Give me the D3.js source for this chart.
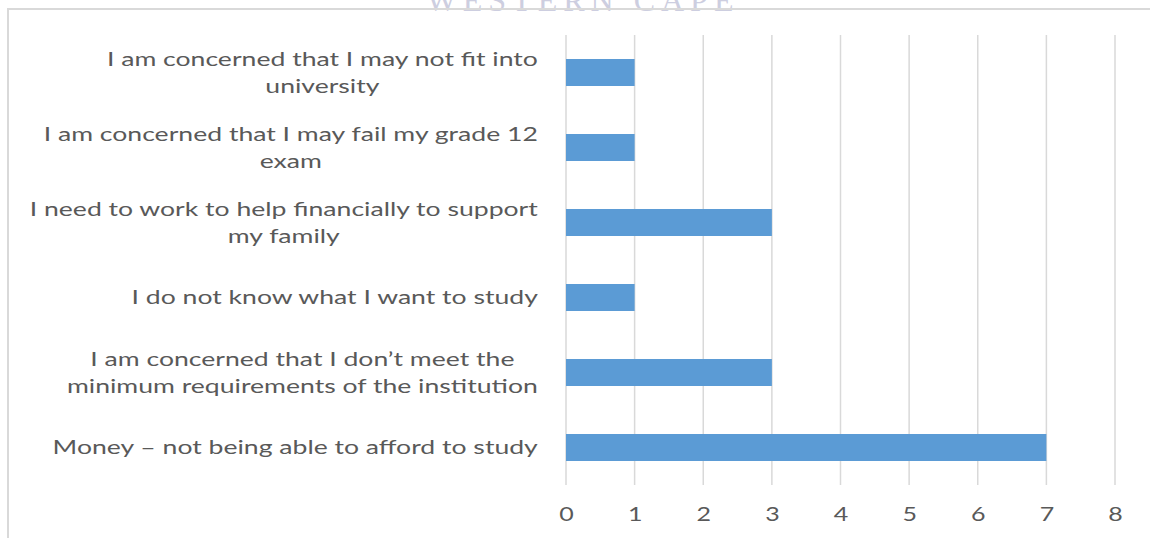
<!DOCTYPE html>
<html>
<head>
<meta charset="utf-8">
<script src="https://cdn.jsdelivr.net/npm/d3@7"></script>
<style>
  body { margin: 0; background: #fff; }
  svg { display: block; }
  .label, .tick text { fill: #595959; font-family: Lato, "Open Sans", sans-serif; }
</style>
</head>
<body>
<div id="chart"></div>
<script>
// categories, top to bottom, each one split into its wrapped lines
const categories = [
    ["I am concerned that I may not fit into", "university"],
    ["I am concerned that I may fail my grade 12", "exam"],
    ["I need to work to help financially to support", "my family"],
    ["I do not know what I want to study"],
    ["I am concerned that I don\u2019t meet the", "minimum requirements of the institution"],
    ["Money \u2013 not being able to afford to study"]
];
const counts = [1, 1, 3, 1, 3, 7];
const xTicks = [0, 1, 2, 3, 4, 5, 6, 7, 8];

const width = 1150, height = 538;
const margin = {top: 35, right: 35, bottom: 53, left: 566};
const plotW = width - margin.left - margin.right,
    plotH = height - margin.top - margin.bottom;
const stretch = 1.33; // the source picture's text is widened

const svg = d3.select("#chart").append("svg")
    .attr("width", width)
    .attr("height", height);

// faded watermark cut off at the top of the page
svg.append("text")
    .attr("x", 583)
    .attr("y", 11)
    .attr("text-anchor", "middle")
    .style("font-family", "'Liberation Serif', serif")
    .style("font-size", "32px")
    .style("letter-spacing", "6px")
    .style("fill", "#cdcee0")
    .text("WESTERN CAPE");

// outer frame
svg.append("path")
    .attr("d", "M8," + height + "V9H" + width)
    .attr("fill", "none")
    .attr("stroke", "#d9d9d9")
    .attr("stroke-width", 2);

const g = svg.append("g")
    .attr("transform", "translate(" + margin.left + "," + margin.top + ")");

const x = d3.scaleLinear().domain([0, 8]).range([0, plotW]);
const y = d3.scaleBand()
    .domain(d3.range(categories.length))
    .range([0, plotH])
    .paddingInner(0.64)
    .paddingOuter(0.32);

// vertical gridlines
g.selectAll(".grid")
    .data(xTicks)
    .enter()
    .append("line")
    .attr("class", "grid")
    .attr("x1", d => x(d))
    .attr("x2", d => x(d))
    .attr("y1", 0)
    .attr("y2", plotH)
    .attr("stroke", "#d9d9d9")
    .attr("stroke-width", 1.5);

g.selectAll(".bar")
    .data(counts)
    .enter()
    .append("rect")
    .attr("class", "bar")
    .attr("x", x(0))
    .attr("y", (d, i) => y(i))
    .attr("width", d => x(d) - x(0))
    .attr("height", y.bandwidth())
    .attr("fill", "#5b9bd5");

// x axis labels only, no domain line
const xAxis = g.append("g")
    .attr("transform", "translate(0," + plotH + ")")
    .call(d3.axisBottom(x).tickValues(xTicks).tickSize(0).tickPadding(22));
xAxis.select(".domain").remove();
xAxis.selectAll("text")
    .style("font-size", "20px")
    .attr("transform", "scale(1.25,1)");

// category labels: block right aligned, lines centred inside the block
const lineH = 27;
const labels = g.selectAll(".label")
    .data(categories)
    .enter()
    .append("text")
    .attr("class", "label")
    .style("font-size", "20px")
    .attr("text-anchor", "middle");

labels.each(function(lines, i) {
    const t = d3.select(this);
    const cy = y(i) + y.bandwidth() / 2;
    lines.forEach(function(s, k) {
        t.append("tspan")
            .attr("x", 0)
            .attr("y", cy + (k - (lines.length - 1) / 2) * lineH)
            .attr("dy", "0.35em")
            .text(s);
    });
    const w = d3.max(t.selectAll("tspan").nodes(), n => n.getComputedTextLength());
    t.attr("transform", "translate(" + (-28 - stretch * w / 2) + ",0) scale(" + stretch + ",1)");
});
</script>
</body>
</html>
